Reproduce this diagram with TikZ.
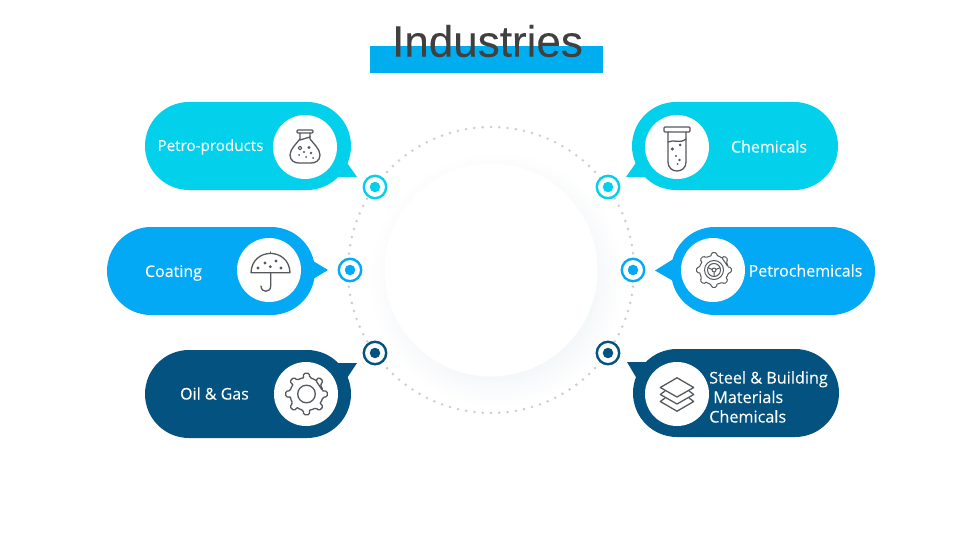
\documentclass[tikz,border=0pt]{standalone}
\usepackage{fontspec}
\setmainfont{Open Sans}
\newfontfamily\capfont[FakeBold=0.12]{Open Sans}
\newfontfamily\titlefont[FakeBold=0.1]{Liberation Sans}
\usetikzlibrary{shapes.misc}
\definecolor{cyanfill}{HTML}{03D1EB}
\definecolor{skyfill}{HTML}{03A9F4}
\definecolor{barfill}{HTML}{00AEEF}
\definecolor{navyfill}{HTML}{04527F}
\definecolor{iconink}{HTML}{55595E}
\definecolor{dotgrey}{HTML}{CDCDD0}
\definecolor{haloA}{HTML}{F4F7F9}
\tikzset{
  x=1pt, y=-1pt,
  bubble/.style={rounded rectangle, minimum width=206pt, minimum height=88pt, inner sep=0pt, draw=none, fill=#1},
  tailshape/.style={fill=#1, draw=none},
  disc/.style={circle, fill=white, minimum size=64pt, inner sep=0pt},
  ringmark/.style={circle, draw=#1, line width=2.4pt, fill=white, minimum size=22.4pt, inner sep=0pt},
  ringcore/.style={circle, fill=#1, minimum size=10.5pt, inner sep=0pt},
  caption/.style={text=white, font=\capfont\fontsize{#1}{19.5}\selectfont, inner sep=0pt, align=left},
  glyph/.style={draw=iconink, line width=1.3pt, line join=round, line cap=round, fill=none},
  speck/.style={fill=iconink, draw=none}
}
\begin{document}
\begin{tikzpicture}
\useasboundingbox (0,0) rectangle (960,540);
\fill[white] (0,0) rectangle (960,540);

% title
\fill[barfill] (370,46) rectangle (603,73);
\node[text=black!75, font=\titlefont\fontsize{44}{50}\selectfont, inner sep=0pt] (title) at (487.5,41) {Industries};

% soft glow around the hub, brighter toward the lower right
\foreach \r in {128,126,...,96}{
  \pgfmathsetmacro{\mixv}{100*(128-\r)/32}
  \fill[haloA!\mixv!white] (497,280) circle (\r);
}
\node[circle, fill=white, minimum size=213pt, inner sep=0pt] (hub) at (491,270) {};
\foreach \a in {0,3.333,...,359}
  \fill[dotgrey] ({491+143*cos(\a)},{270+143*sin(\a)}) circle (1.4);

% tails
\fill[tailshape=cyanfill] (343,157) -- (357,177) -- (332,177) -- cycle;
\fill[tailshape=cyanfill] (640,157) -- (626,177) -- (651,177) -- cycle;
\fill[tailshape=skyfill] (308,258) -- (328,270) -- (308,282) -- cycle;
\fill[tailshape=skyfill] (675,258) -- (655,270.5) -- (675,282) -- cycle;
\fill[tailshape=navyfill] (332,363) -- (357,363) -- (343,384) -- cycle;
\fill[tailshape=navyfill] (652,362) -- (627,362) -- (640,384) -- cycle;

% bubbles
\node[bubble=cyanfill] (petro) at (248,146) {};
\node[bubble=cyanfill] (chem) at (735,146) {};
\node[bubble=skyfill, minimum width=208pt] (coat) at (211,271) {};
\node[bubble=skyfill, minimum width=204pt] (pchem) at (773,271) {};
\node[bubble=navyfill] (oil) at (248,394) {};
\node[bubble=navyfill] (steel) at (736,393) {};

% icon discs
\node[disc] (dpetro) at (305,147) {};
\node[disc] (dchem) at (677,147) {};
\node[disc] (dcoat) at (269,270) {};
\node[disc] (dpchem) at (713,270) {};
\node[disc] (doil) at (306,394) {};
\node[disc] (dsteel) at (677,394) {};

% ring markers
\foreach \nm/\px/\py/\col in {rpetro/375/187/cyanfill, rchem/608/187/cyanfill,
    rcoat/350/270/skyfill, rpchem/633/270/skyfill,
    roil/375/353/navyfill, rsteel/608/353/navyfill}{
  \node[ringmark=\col] (\nm) at (\px,\py) {};
  \node[ringcore=\col] at (\nm) {};
}

% captions
\node[caption=15.2] (tpetro) at (210.5,147) {Petro-products};
\node[caption=16] (tchem) at (769,146.5) {Chemicals};
\node[caption=16] (tcoat) at (173.5,273) {Coating};
\node[caption=16] (tpchem) at (805.5,270.5) {Petrochemicals};
\node[caption=16] (toil) at (214.5,393.5) {Oil \& Gas};
\node[caption=16.2, anchor=north west] (tsteel) at (709,371) {Steel \& Building\\\hspace*{4pt}Materials\\Chemicals};

% flask
\begin{scope}[shift={(305,147)}]
  \draw[glyph, rounded corners=1pt] (-8,-17) rectangle (8,-14);
  \draw[glyph] (-5,-14) -- (-5,-8) .. controls (-8,-4) and (-15,2) .. (-15,8)
     .. controls (-15,14) and (-10,16) .. (-6,16) -- (6,16)
     .. controls (10,16) and (15,14) .. (15,8) .. controls (15,2) and (8,-4) .. (5,-8) -- (5,-14);
  \draw[glyph] (-5,-7) -- (5,-10);
  \draw[glyph, line width=1pt] (-5,1) circle (1.8);
  \fill[speck] (4,0.5) circle (1.6) (6,6) circle (1.4) (-1,5) circle (1.2) (-6,8) circle (1) (1,10) circle (1) (8,11) circle (1);
\end{scope}

% test tube
\begin{scope}[shift={(677,147)}]
  \draw[glyph, rounded corners=1pt] (-13,-20) rectangle (13,-15);
  \draw[glyph] (-9,-15) -- (-9,15) .. controls (-9,27) and (9,27) .. (9,15) -- (9,-15);
  \draw[glyph] (-9,-5) .. controls (-3,-8) and (3,-3) .. (9,-8);
  \fill[speck] (-4.7,2) circle (1.7) (3,-2) circle (1.5) (-1,9) circle (1.2) (2.5,13) circle (1.4) (0.7,17) circle (1);
\end{scope}

% umbrella
\begin{scope}[shift={(269,270)}]
  \draw[glyph] (-18,2.7) .. controls (-17,-23) and (20,-23) .. (21,2.7) -- cycle;
  \draw[glyph] (1.5,-16.5) -- (1.5,-18);
  \draw[glyph] (1.7,2.7) -- (1.7,16) .. controls (1.7,23) and (-8,23) .. (-8,16);
  \fill[speck] (-11,-2) circle (1.6) (-4,-7) circle (1.6) (1.3,-3.3) circle (1.6) (7,-9) circle (1.6) (12,-2) circle (1.6);
\end{scope}

% steering gear
\begin{scope}[shift={(714,270)}]
  \draw[glyph, line width=1pt, rounded corners=1.2pt]
    \foreach \t in {0,45,...,315}{
      ({\t-12}:14.5) -- ({\t-8}:17.5) -- ({\t+8}:17.5) -- ({\t+12}:14.5) arc[start angle=\t+12, end angle=\t+33, radius=14.5]
    } -- cycle;
  \draw[glyph, line width=1pt] (0,0) circle (9.5);
  \draw[glyph, line width=1pt] (0,0) circle (6.5);
  \draw[glyph, line width=1pt] (0,0) circle (2);
  \draw[glyph, line width=1pt] (-6,-2.2) -- (-1.9,-.6) (6,-2.2) -- (1.9,-.6) (0,2) -- (0,6.5);
\end{scope}

% gear
\begin{scope}[shift={(306.5,394)}]
  \draw[glyph, rounded corners=1.5pt]
    \foreach \t in {0,45,...,315}{
      ({\t-11}:16.5) -- ({\t-8}:21) -- ({\t+8}:21) -- ({\t+11}:16.5) arc[start angle=\t+11, end angle=\t+34, radius=16.5]
    } -- cycle;
  \draw[glyph] (0,0) circle (8.8);
\end{scope}

% stacked layers
\begin{scope}[shift={(677,394.5)}]
  \draw[glyph] (0,-16.7) -- (16.7,-7) -- (0,2.5) -- (-16.7,-7) -- cycle;
  \draw[glyph] (-12,-3.5) -- (-16.7,0) -- (0,9.5) -- (16.7,0) -- (12,-3.5);
  \draw[glyph] (-12,3.5) -- (-16.7,7) -- (0,16.7) -- (16.7,7) -- (12,3.5);
\end{scope}
\end{tikzpicture}
\end{document}
